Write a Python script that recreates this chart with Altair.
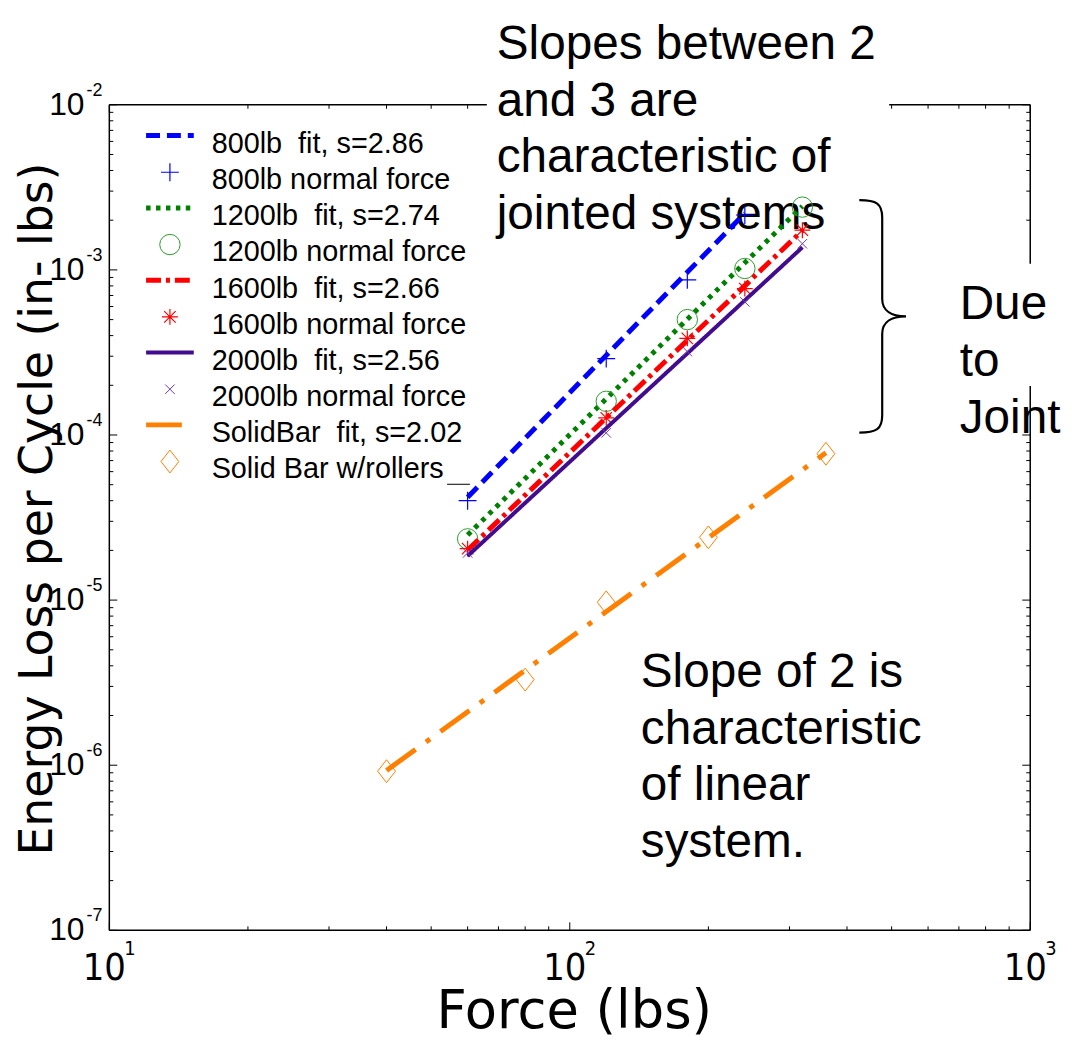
import altair as alt
import pandas as pd

# ---------------- data ----------------
force_800 = [60, 120, 180, 240]
loss_800 = [4.0e-5, 2.9e-4, 8.7e-4, 2.15e-3]
force_joint = [60, 120, 180, 240, 320]
loss_1200 = [2.35e-5, 1.6e-4, 5.0e-4, 1.02e-3, 2.4e-3]
loss_1600 = [2.05e-5, 1.27e-4, 3.85e-4, 7.7e-4, 1.74e-3]
loss_2000 = [1.93e-5, 1.03e-4, 3.2e-4, 6.4e-4, 1.44e-3]
force_solid = [40, 80, 120, 200, 360]
loss_solid = [9.2e-7, 3.3e-6, 9.7e-6, 2.4e-5, 7.7e-5]

fit_force_800 = [60, 240]
fit_loss_800 = [4.2e-5, 2.2e-3]
fit_force_joint = [60, 320]
fit_loss_1200 = [2.48e-5, 2.43e-3]
fit_loss_1600 = [2.01e-5, 1.73e-3]
fit_loss_2000 = [1.85e-5, 1.37e-3]
fit_force_solid = [40, 360]
fit_loss_solid = [9.3e-7, 7.8e-5]

NB = "\u00a0"
legend_labels = [
    "800lb" + NB + NB + "fit, s=2.86", "800lb normal force",
    "1200lb" + NB + NB + "fit, s=2.74", "1200lb normal force",
    "1600lb" + NB + NB + "fit, s=2.66", "1600lb normal force",
    "2000lb" + NB + NB + "fit, s=2.56", "2000lb normal force",
    "SolidBar" + NB + NB + "fit, s=2.02", "Solid Bar w/rollers",
]

x_major = [10, 100, 1000]
x_minor = [k * m for m in (10, 100) for k in range(2, 10)]
y_major = [1e-7, 1e-6, 1e-5, 1e-4, 1e-3, 1e-2]
y_minor = [k * m for m in (1e-7, 1e-6, 1e-5, 1e-4, 1e-3) for k in range(2, 10)]
x_exp_labels = ["1", "2", "3"]
y_exp_labels = ["-7", "-6", "-5", "-4", "-3", "-2"]

annot_joint = "Slopes between 2\nand 3 are\ncharacteristic of\njointed systems"
annot_due = "Due\nto\nJoint"
annot_linear = "Slope of 2 is\ncharacteristic\nof linear\nsystem."

# ---------------- layout ----------------
W, H = 927, 831
FONT = "Liberation Sans"
NARROW = "'Liberation Sans Narrow', 'DejaVu Sans Condensed', 'Liberation Sans'"
WIDE = "DejaVu Sans"
xs = alt.Scale(type="log", domain=[10, 1000], nice=False)
ys = alt.Scale(type="log", domain=[1e-7, 1e-2], nice=False)

def X(f):
    return alt.X(f, type="quantitative", scale=xs, axis=None)

def Y(f):
    return alt.Y(f, type="quantitative", scale=ys, axis=None)

dummy = pd.DataFrame({"d": [0]})
layers = []

# ticks (inward, all four sides)
for vals, ln in ((x_major, 8), (x_minor, 4)):
    d = pd.DataFrame({"v": vals})
    layers.append(alt.Chart(d).mark_rule(color="black", strokeWidth=1).encode(
        x=X("v"), y=alt.value(H), y2=alt.value(H - ln)))
    layers.append(alt.Chart(d).mark_rule(color="black", strokeWidth=1).encode(
        x=X("v"), y=alt.value(0), y2=alt.value(ln)))
for vals, ln in ((y_major, 8), (y_minor, 4)):
    d = pd.DataFrame({"v": vals})
    layers.append(alt.Chart(d).mark_rule(color="black", strokeWidth=1).encode(
        y=Y("v"), x=alt.value(0), x2=alt.value(ln)))
    layers.append(alt.Chart(d).mark_rule(color="black", strokeWidth=1).encode(
        y=Y("v"), x=alt.value(W), x2=alt.value(W - ln)))

# frame
for (x1, x2, y1, y2) in ((0, W, 0, 0), (0, W, H, H), (0, 0, 0, H), (W, W, 0, H)):
    layers.append(alt.Chart(dummy).mark_rule(color="black", strokeWidth=1.5).encode(
        x=alt.value(x1), x2=alt.value(x2), y=alt.value(y1), y2=alt.value(y2)))

# white boxes behind annotation text (they hide the frame)
for (x1, x2, y1, y2) in ((380, 785, -102, 133), (845, 962, 160, 283)):
    layers.append(alt.Chart(dummy).mark_rect(color="white").encode(
        x=alt.value(x1), x2=alt.value(x2), y=alt.value(y1), y2=alt.value(y2)))

# annotations
for txt, x0, y0 in ((annot_joint, 390, -46), (annot_due, 856, 216), (annot_linear, 535, 586)):
    layers.append(alt.Chart(dummy).mark_text(
        font=FONT, fontSize=48, align="left", baseline="alphabetic",
        lineBreak="\n", lineHeight=57, color="black").encode(
        x=alt.value(x0), y=alt.value(y0), text=alt.value(txt)))

brace = ("M-0.197,-1 C-0.05,-1 0,-0.97 0,-0.85 L0,-0.15 C0,-0.05 0.08,0 0.205,0 "
         "C0.08,0 0,0.05 0,0.15 L0,0.85 C0,0.97 -0.05,1 -0.197,1")
layers.append(alt.Chart(dummy).mark_point(
    shape=brace, filled=False, color="black", strokeWidth=2.2, size=234 * 234, opacity=1).encode(
    x=alt.value(778), y=alt.value(213)))

# axis tick labels
xl = pd.DataFrame({"v": x_major, "e": x_exp_labels})
layers.append(alt.Chart(xl).mark_text(font=NARROW, fontSize=38, align="center", baseline="middle",
                                      dx=-5, color="black").encode(
    x=X("v"), y=alt.value(H + 39), text=alt.value("10")))
layers.append(alt.Chart(xl).mark_text(font=NARROW, fontSize=20, align="left", baseline="middle",
                                      dx=15, color="black").encode(
    x=X("v"), y=alt.value(H + 19), text="e:N"))
yl = pd.DataFrame({"v": y_major, "e": y_exp_labels})
layers.append(alt.Chart(yl).mark_text(font=FONT, fontSize=32, align="right", baseline="middle",
                                      color="black").encode(
    y=Y("v"), x=alt.value(-25), text=alt.value("10")))
layers.append(alt.Chart(yl).mark_text(font=FONT, fontSize=18, align="left", baseline="middle",
                                      dy=-14, color="black").encode(
    y=Y("v"), x=alt.value(-23), text="e:N"))

# axis titles
layers.append(alt.Chart(dummy).mark_text(font=WIDE, fontSize=53, align="center", baseline="alphabetic",
                                         color="black").encode(
    x=alt.value(468), y=alt.value(929), text=alt.value("Force (lbs)")))
layers.append(alt.Chart(dummy).mark_text(font=WIDE, fontSize=46, align="center", baseline="alphabetic",
                                         angle=270, color="black").encode(
    x=alt.value(-58), y=alt.value(407), text=alt.value("Energy Loss per Cycle (in- lbs)")))

# series
PLUS = "M-1,0L1,0M0,-1L0,1"
STAR = "M-1,0L1,0M0,-1L0,1M-0.72,-0.72L0.72,0.72M-0.72,0.72L0.72,-0.72"
XMARK = "M-1,-1L1,1M-1,1L1,-1"
DIAM = "M0,-1L0.78,0L0,1L-0.78,0Z"

series = [
    dict(ff=fit_force_800, fl=fit_loss_800, pf=force_800, pl=loss_800, color="#0000FF",
         dash=[14, 7], width=5, shape=PLUS, size=324, mcolor="#0000FF", mw=1.2),
    dict(ff=fit_force_joint, fl=fit_loss_1200, pf=force_joint, pl=loss_1200, color="#008000",
         dash=[4.5, 5.5], width=5, shape="circle", size=420, mcolor="#2E9A2E", mw=1),
    dict(ff=fit_force_joint, fl=fit_loss_1600, pf=force_joint, pl=loss_1600, color="#FF0000",
         dash=[15, 5, 4, 5], width=5, shape=STAR, size=256, mcolor="#FF0000", mw=1.2),
    dict(ff=fit_force_joint, fl=fit_loss_2000, pf=force_joint, pl=loss_2000, color="#420C8E",
         dash=[1, 0], width=4, shape=XMARK, size=90, mcolor="#6A3AB0", mw=1),
    dict(ff=fit_force_solid, fl=fit_loss_solid, pf=force_solid, pl=loss_solid, color="#FF8000",
         dash=[36, 13, 5, 13], width=5, shape=DIAM, size=529, mcolor="#FF8000", mw=1),
]

LEG_X0, LEG_X1, LEG_MX, LEG_TX = 37, 85, 61, 103
for i, s in enumerate(series):
    fit = pd.DataFrame({"f": s["ff"], "e": s["fl"]})
    pts = pd.DataFrame({"f": s["pf"], "e": s["pl"]})
    layers.append(alt.Chart(fit).mark_line(color=s["color"], strokeWidth=s["width"],
                                           strokeDash=s["dash"], strokeCap="butt").encode(
        x=X("f"), y=Y("e")))
    layers.append(alt.Chart(pts).mark_point(shape=s["shape"], filled=False, color=s["mcolor"],
                                            strokeWidth=s["mw"], size=s["size"], opacity=1).encode(
        x=X("f"), y=Y("e")))
    # legend entries
    ty_line = 39.5 + (2 * i) * 36.4
    ty_mark = 39.5 + (2 * i + 1) * 36.4
    layers.append(alt.Chart(dummy).mark_rule(color=s["color"], strokeWidth=s["width"],
                                             strokeDash=s["dash"], strokeCap="butt").encode(
        x=alt.value(LEG_X0), x2=alt.value(LEG_X1 if i != 4 else 76),
        y=alt.value(ty_line - 8.5), y2=alt.value(ty_line - 8.5)))
    layers.append(alt.Chart(dummy).mark_point(shape=s["shape"], filled=False, color=s["mcolor"],
                                              strokeWidth=s["mw"], size=s["size"], opacity=1).encode(
        x=alt.value(LEG_MX), y=alt.value(ty_mark - 8)))
    for lab, ty in ((legend_labels[2 * i], ty_line), (legend_labels[2 * i + 1], ty_mark)):
        layers.append(alt.Chart(dummy).mark_text(font=FONT, fontSize=29, align="left",
                                                 baseline="middle", color="black").encode(
            x=alt.value(LEG_TX), y=alt.value(ty), text=alt.value(lab)))

# small stray underline after the last legend entry
layers.append(alt.Chart(dummy).mark_rule(color="black", strokeWidth=1).encode(
    x=alt.value(340), x2=alt.value(363), y=alt.value(382), y2=alt.value(382)))

chart = alt.layer(*layers).properties(
    width=W, height=H,
    autosize=alt.AutoSizeParams(type="none"),
    padding={"left": 102, "top": 94, "right": 34, "bottom": 110},
).configure_view(stroke="transparent")

chart.save("out.html", embed_options={"renderer": "svg", "actions": False})
